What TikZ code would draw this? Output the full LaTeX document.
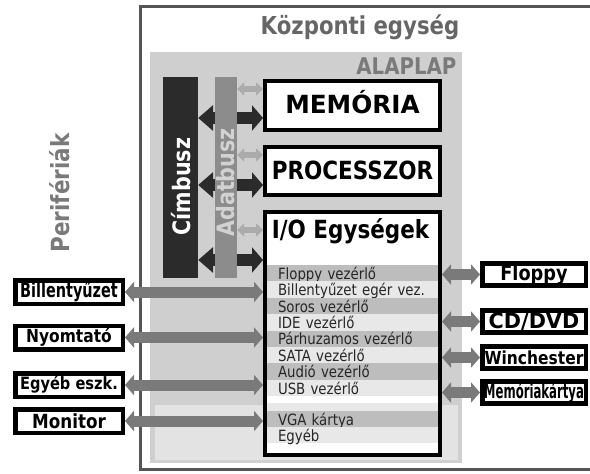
\documentclass[tikz,border=0pt]{standalone}
\usepackage{fontspec}
\setmainfont{DejaVu Sans}[FakeStretch=0.86]
\usepackage{xcolor}
\usetikzlibrary{arrows.meta,positioning,calc}

\definecolor{cuframe}{HTML}{555555}
\definecolor{boardgray}{HTML}{CFCFCF}
\definecolor{boardlight}{HTML}{E3E3E3}
\definecolor{titlegray}{HTML}{666666}
\definecolor{labelgray}{HTML}{7A7A7A}
\definecolor{addrbus}{HTML}{2B2B2B}
\definecolor{databus}{HTML}{8C8C8C}
\definecolor{datatext}{HTML}{D2D2D2}
\definecolor{rowdark}{HTML}{BDBDBD}
\definecolor{rowlight}{HTML}{E8E8E8}
\definecolor{linkgray}{HTML}{7A7A7A}
\definecolor{datalinkc}{HTML}{ABABAB}

\newcommand{\px}[1]{\fontsize{#1pt}{#1pt}\selectfont}

\begin{document}
\begin{tikzpicture}[
    x=1pt, y=-1pt,
    unitbox/.style={
        draw=black,
        line width=4pt,
        fill=white,
        minimum width=175pt,
        inner sep=0pt,
        text height=16pt,
        text depth=0pt,
        font=\bfseries\px{25}
    },
    devbox/.style={draw=black, line width=4.5pt, fill=white, inner sep=0pt, font=\bfseries},
    leftdev/.style={devbox, minimum width=107.5pt, minimum height=23.5pt},
    rightdev/.style={devbox, minimum width=103.5pt, minimum height=22pt},
    busbar/.style={minimum width=#1, minimum height=201pt, inner sep=0pt},
    bustext/.style={rotate=90, font=\bfseries\px{24}},
    ctrl/.style={
        minimum height=16.4pt,
        text width=149pt,
        align=left,
        inner xsep=11pt,
        inner ysep=0pt,
        text height=12pt,
        text depth=0pt,
        text=black!85,
        font=\px{15.5}
    },
    addrlink/.style={draw=addrbus, line width=12pt,
        arrows={Triangle[width=25pt,length=15pt]-Triangle[width=25pt,length=11pt]}},
    datalink/.style={draw=datalinkc, line width=6pt, >={Triangle[width=13pt,length=7pt]}, <->},
    periph/.style={draw=linkgray, line width=11pt, >={Triangle[width=20pt,length=9pt]}, <->}
]

\useasboundingbox (0,0) rectangle (590,474);

% Kozponti egyseg and alaplap
\draw[cuframe, line width=3pt, fill=white] (140.5,6.5) rectangle (620,469.5);
\fill[boardgray] (150,52) rectangle (462,463);
\fill[boardlight] (155,405) rectangle (458,460);

\node[font=\bfseries\px{24.7}, text=titlegray, anchor=base] (cutitle) at (360,34) {Központi egység};
\node[font=\bfseries\px{23}, text=labelgray, anchor=base east] (boardtitle) at (460,74) {ALAPLAP};
\node[font=\bfseries\px{25}, text=labelgray, rotate=90] (perif) at (60,193) {Perifériák};

% buses and units
\node[busbar=35pt, fill=addrbus] (cim) at (180.5,177.5) {};
\node[bustext, text=white] (cimtext) at (181,186.5) {Címbusz};

\node[unitbox, minimum height=49pt] (mem) at (352.5,105.5) {\scalebox{1.15}[1]{MEMÓRIA}};
\node[unitbox, minimum height=48pt] (cpu) at (352.5,171) {PROCESSZOR};
\node[unitbox, minimum height=243pt] (io) at (352.5,333.5) {};
\node[font=\bfseries\px{25}, anchor=base] (iotitle) at (350.5,238) {I/O Egységek};

\foreach \unit/\dy in {mem/39pt, cpu/40pt, io/50pt} {
    \coordinate (a-\unit) at ([yshift=-\dy]\unit.north west);
    \draw[addrlink] (cim.east |- a-\unit) -- (a-\unit);
}

\node[busbar=22pt, fill=databus] (adat) at (226,177.5) {};
\node[bustext, text=datatext] (adattext) at (226,182.5) {Adatbusz};

\foreach \unit/\dy in {mem/10pt, cpu/10pt, io/20pt} {
    \coordinate (d-\unit) at ([yshift=-\dy]\unit.north west);
    \draw[datalink] (adat.east |- d-\unit) -- (d-\unit);
}

% controllers
\foreach \txt [count=\i] in {Floppy vezérlő, Billentyűzet egér vez., Soros vezérlő, IDE vezérlő,
        Párhuzamos vezérlő, SATA vezérlő, Audió vezérlő, USB vezérlő} {
    \pgfmathtruncatemacro{\odd}{mod(\i,2)}
    \ifnum\odd=1 \def\shade{rowdark}\else\def\shade{rowlight}\fi
    \node[ctrl, fill=\shade] (r\i) at (352.5,256.8+16.4*\i) {\txt};
}
\fill[rowlight] (267,403) rectangle (438,411);
\node[ctrl, fill=rowdark] (vga) at (352.5,419) {VGA kártya};
\node[ctrl, fill=rowlight] (misc) at (352.5,435) {Egyéb};

% peripherals
\node[leftdev, font=\bfseries\px{20}] (kbd) at (69,292) {\scalebox{0.84}[1]{Billentyűzet}};
\node[leftdev, font=\bfseries\px{18}] (prn) at (69,337.5) {Nyomtató};
\node[leftdev, font=\bfseries\px{17}] (oth) at (69,385) {Egyéb eszk.};
\node[leftdev, font=\bfseries\px{19.5}] (mon) at (69,421) {Monitor};

\node[rightdev, font=\bfseries\px{20.6}] (flop) at (534,274.5) {Floppy};
\node[rightdev, font=\bfseries\px{21}] (cdd) at (534,321.5) {\scalebox{1.15}[1]{CD/DVD}};
\node[rightdev, font=\bfseries\px{18}] (win) at (534,357.5) {Winchester};
\node[rightdev, font=\bfseries\px{20}] (mcard) at (534,392.5) {\scalebox{0.68}[1]{Memóriakártya}};

\foreach \dev in {kbd, prn, oth, mon}
    \draw[periph] (\dev.east) -- (\dev -| io.west);
\foreach \dev in {flop, cdd, win, mcard}
    \draw[periph] (io.east |- \dev) -- (\dev.west);

\end{tikzpicture}
\end{document}
